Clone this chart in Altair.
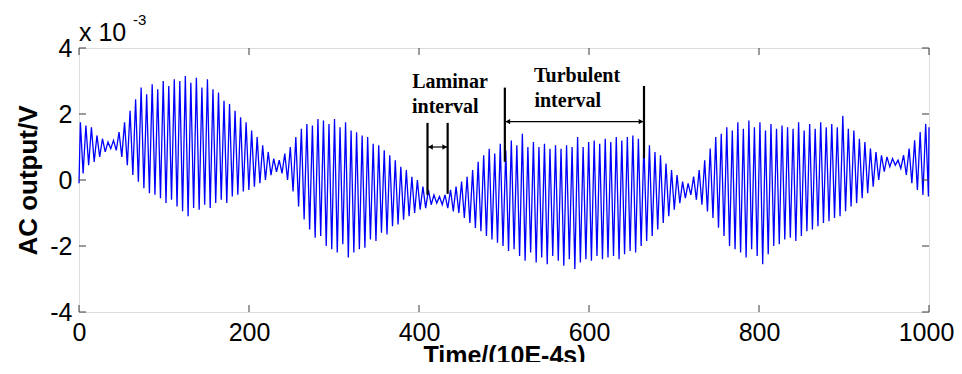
import altair as alt
import pandas as pd

# ---- data (values in units of 1e-3 V) ----
start_time = 0.0
start_value = -0.1
cycle_period = 6.5          # oscillation period in time units
peak_offset = 1.6           # time of first maximum
trough_offset = 4.85        # time of first minimum

cycle_max = [
    1.75, 1.65, 1.6, 1.35, 1.25, 1.15, 1.2, 1.45, 1.75, 2.1,
    2.45, 2.8, 2.6, 2.9, 2.75, 3.0, 2.85, 3.05, 3.0, 3.15,
    2.95, 3.1, 2.8, 3.05, 2.75, 2.65, 2.4, 2.3, 2.1, 1.9,
    1.75, 1.5, 1.3, 1.05, 0.85, 0.65, 0.6, 0.8, 1.0, 1.3,
    1.55, 1.7, 1.65, 1.85, 1.8, 1.7, 1.85, 1.6, 1.75, 1.5,
    1.45, 1.35, 1.3, 1.1, 1.05, 0.9, 0.75, 0.6, 0.4, 0.3,
    0.1, 0.0, -0.2, -0.3, -0.45, -0.5, -0.45, -0.3, -0.2, -0.05,
    0.1, 0.3, 0.55, 0.75, 0.95, 0.8, 1.1, 0.9, 1.2, 1.05,
    1.4, 1.0, 1.15, 1.0, 1.1, 0.95, 1.05, 0.95, 1.05, 1.0,
    1.3, 1.0, 1.15, 1.2, 1.1, 1.25, 1.15, 1.3, 1.2, 1.3,
    1.35, 1.25, 1.1, 1.05, 0.85, 0.75, 0.5, 0.3, 0.15, -0.05,
    -0.1, 0.1, 0.3, 0.6, 0.95, 1.3, 1.4, 1.6, 1.5, 1.75,
    1.55, 1.8, 1.6, 1.75, 1.5, 1.7, 1.55, 1.65, 1.6, 1.55,
    1.75, 1.5, 1.7, 1.55, 1.75, 1.6, 1.7, 1.6, 1.95, 1.55,
    1.5, 1.25, 1.15, 0.95, 0.85, 0.75, 0.7, 0.65, 0.6, 0.75,
    0.95, 1.2, 1.45, 1.7,
]
cycle_min = [
    0.2, 0.45, 0.55, 0.7, 0.85, 0.95, 0.9, 0.7, 0.45, 0.15,
    -0.05, -0.25, -0.4, -0.45, -0.55, -0.7, -0.6, -0.8, -0.95, -1.1,
    -0.85, -0.9, -0.75, -0.85, -0.7, -0.6, -0.7, -0.5, -0.45, -0.35,
    -0.3, -0.2, -0.1, 0.0, 0.15, 0.25, 0.2, 0.0, -0.35, -0.8,
    -1.2, -1.5, -1.75, -1.7, -2.0, -2.1, -2.2, -1.95, -2.35, -2.2,
    -2.1, -2.05, -1.8, -1.85, -1.6, -1.65, -1.4, -1.35, -1.2, -1.1,
    -1.0, -0.9, -0.85, -0.75, -0.7, -0.75, -0.85, -0.95, -1.0, -1.15,
    -1.3, -1.45, -1.55, -1.7, -1.8, -1.9, -2.0, -2.15, -2.1, -2.3,
    -2.45, -2.2, -2.5, -2.35, -2.55, -2.3, -2.45, -2.6, -2.4, -2.7,
    -2.5, -2.4, -2.45, -2.3, -2.4, -2.35, -2.3, -2.4, -2.25, -2.15,
    -2.2, -2.0, -1.85, -1.7, -1.5, -1.3, -1.1, -0.9, -0.7, -0.55,
    -0.45, -0.6, -0.75, -0.95, -1.15, -1.45, -1.7, -2.0, -2.1, -2.2,
    -2.35, -2.1, -2.3, -2.55, -2.25, -2.0, -1.95, -1.8, -1.75, -1.85,
    -1.7, -1.55, -1.5, -1.4, -1.3, -1.25, -1.15, -1.1, -0.95, -0.8,
    -0.7, -0.55, -0.4, -0.2, 0.0, 0.25, 0.4, 0.45, 0.35, 0.15,
    -0.1, -0.3, -0.45, -0.5,
]
end_time = 1000.0
end_value = 1.6

x_ticks = [0, 200, 400, 600, 800, 1000]
y_ticks = [-4, -2, 0, 2, 4]

# annotation lines (time, y from, y to)
marker_x = [410, 433.7, 501, 664.7]
marker_y1 = [1.73, 1.73, 2.8, 2.85]
marker_y2 = [-0.45, -0.42, 0.55, 0.66]
arrow_left = [410, 501]
arrow_right = [433.7, 664.7]
arrow_y = [1.0, 1.77]
label_text = ["Laminar", "interval", "Turbulent", "interval"]
label_x = [436.5, 431, 586, 575]
label_y = [2.98, 2.22, 3.15, 2.39]

# ---- build tables ----
t, v = [start_time], [start_value]
for k, (hi, lo) in enumerate(zip(cycle_max, cycle_min)):
    t.append(k * cycle_period + peak_offset); v.append(hi)
    t.append(k * cycle_period + trough_offset); v.append(lo)
t.append(end_time); v.append(end_value)
sig = pd.DataFrame({"t": t, "v": v, "i": range(len(t))})

W, H = 850, 264
xs = alt.Scale(domain=[0, 1000], nice=False, zero=False)
ys = alt.Scale(domain=[-4, 4], nice=False, zero=False)

label_expr = "datum.value < 0 ? '-' + abs(datum.value) : '' + datum.value"

xaxis = alt.Axis(values=x_ticks, title="Time/(10E-4s)", grid=False, domain=False,
                 tickSize=0, labelFontSize=25, labelFont="Liberation Sans",
                 labelColor="black", labelPadding=8, labelFlush=False,
                 labelOverlap=False, labelBound=False, labelExpr=label_expr,
                 labelOffset={"condition": {"test": "datum.value === 1000", "value": -3},
                              "value": 0},
                 titleFontSize=25, titleFont="Liberation Sans", titleFontWeight="bold",
                 titleColor="black", titlePadding=-2)
yaxis = alt.Axis(values=y_ticks, title="AC output/V", grid=False, domain=False,
                 tickSize=0, labelFontSize=25, labelFont="Liberation Sans",
                 labelColor="black", labelPadding=7, labelFlush=False,
                 labelOverlap=False, labelBound=False, labelExpr=label_expr,
                 titleFontSize=26, titleFont="Liberation Sans", titleFontWeight="bold",
                 titleColor="black", titlePadding=8)

line = alt.Chart(sig).mark_line(color="#0000ff", strokeWidth=1.3, interpolate="linear").encode(
    x=alt.X("t:Q", scale=xs, axis=xaxis),
    y=alt.Y("v:Q", scale=ys, axis=yaxis),
    order="i:Q",
)

xt = pd.DataFrame({"x": x_ticks})
yt = pd.DataFrame({"y": y_ticks})
tick_color = "#3a3a3a"
xt_bottom = alt.Chart(xt).mark_rule(color=tick_color, strokeWidth=1).encode(
    x=alt.X("x:Q", scale=xs), y=alt.value(H), y2=alt.value(H - 7))
xt_top = alt.Chart(xt).mark_rule(color=tick_color, strokeWidth=1).encode(
    x=alt.X("x:Q", scale=xs), y=alt.value(0), y2=alt.value(7))
yt_left = alt.Chart(yt).mark_rule(color=tick_color, strokeWidth=1).encode(
    y=alt.Y("y:Q", scale=ys), x=alt.value(0), x2=alt.value(7))
yt_right = alt.Chart(yt).mark_rule(color=tick_color, strokeWidth=1).encode(
    y=alt.Y("y:Q", scale=ys), x=alt.value(W), x2=alt.value(W - 7))

mk = pd.DataFrame({"x": marker_x, "y1": marker_y1, "y2": marker_y2})
markers = alt.Chart(mk).mark_rule(color="black", strokeWidth=2.2).encode(
    x=alt.X("x:Q", scale=xs), y=alt.Y("y1:Q", scale=ys), y2="y2:Q")

ar = pd.DataFrame({"x1": arrow_left, "x2": arrow_right, "y": arrow_y})
arrows = alt.Chart(ar).mark_rule(color="black", strokeWidth=1.2).encode(
    x=alt.X("x1:Q", scale=xs), x2="x2:Q", y=alt.Y("y:Q", scale=ys))
head_l = alt.Chart(ar).mark_point(shape="triangle-left", filled=True, color="black",
                                  size=28, opacity=1, xOffset=3).encode(
    x=alt.X("x1:Q", scale=xs), y=alt.Y("y:Q", scale=ys))
head_r = alt.Chart(ar).mark_point(shape="triangle-right", filled=True, color="black",
                                  size=28, opacity=1, xOffset=-3).encode(
    x=alt.X("x2:Q", scale=xs), y=alt.Y("y:Q", scale=ys))

lab = pd.DataFrame({"text": label_text, "x": label_x, "y": label_y})
labels = alt.Chart(lab).mark_text(font="Liberation Serif", fontWeight="bold", fontSize=20,
                                  color="black", align="center", baseline="middle").encode(
    x=alt.X("x:Q", scale=xs), y=alt.Y("y:Q", scale=ys), text="text:N")

exp_df = pd.DataFrame({"a": ["x 10"], "b": ["-3"]})
exp_main = alt.Chart(exp_df).mark_text(font="Liberation Sans", fontSize=25, color="black",
                                       align="left", baseline="middle").encode(
    x=alt.value(0), y=alt.value(-15), text="a:N")
exp_sup = alt.Chart(exp_df).mark_text(font="Liberation Sans", fontSize=15, color="black",
                                      align="left", baseline="middle").encode(
    x=alt.value(54), y=alt.value(-28), text="b:N")

chart = alt.layer(
    line, xt_bottom, xt_top, yt_left, yt_right, markers, arrows, head_l, head_r,
    labels, exp_main, exp_sup,
).properties(
    width=W, height=H,
    autosize=alt.AutoSizeParams(type="none"),
    padding={"left": 71, "top": 40, "right": 25, "bottom": 50},
).configure_view(
    stroke="#3a3a3a", strokeWidth=1
).configure(background="white")

chart.save("out.html", embed_options={"renderer": "svg", "actions": False})
